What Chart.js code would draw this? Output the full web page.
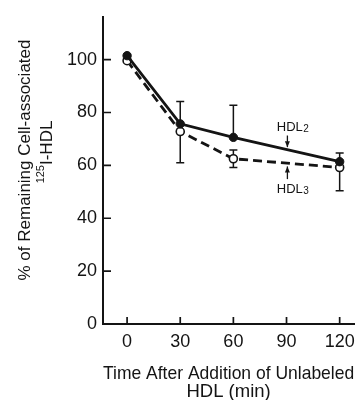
<!DOCTYPE html>
<html>
<head>
<meta charset="utf-8">
<script src="https://cdn.jsdelivr.net/npm/chart.js@4.4.1/dist/chart.umd.min.js"></script>
<style>
  html, body { margin: 0; padding: 0; background: #fff; }
</style>
</head>
<body>
<canvas id="chart" width="362" height="400"></canvas>
<script>
// data
const times = [0, 30, 60, 120];
const hdl2 = [101.5, 75.7, 70.6, 61.4];
const hdl3 = [99.6, 72.8, 62.5, 59.2];
// whisker ends (null = none drawn)
const hdl2Upper = [null, 84.2, 82.7, 64.7];
const hdl3Upper = [null, null, 65.8, null];
const hdl3Lower = [null, 61.0, 59.2, 50.4];
const xTicks = [0, 30, 60, 90, 120];
const yTicks = [0, 20, 40, 60, 80, 100];

const INK = '#141414';
const FONT = "'Liberation Sans', Arial, sans-serif";

// labels with arrows pointing at the lines (data coords)
const notes = [
  { base: 'HDL', sub: '2', x: 84.5, y: 74.3, arrowX: 90.5, from: 71.3, to: 66.9 },
  { base: 'HDL', sub: '3', x: 84.5, y: 50.9, arrowX: 90.5, from: 54.8, to: 59.6 }
];

const decorations = {
  id: 'decorations',
  beforeDatasetsDraw(chart) {
    const { ctx, scales: { x, y } } = chart;
    ctx.save();
    ctx.strokeStyle = INK;
    ctx.lineWidth = 1.5;
    const whisker = (t, a, b) => {
      const px = x.getPixelForValue(t);
      const ya = y.getPixelForValue(a), yb = y.getPixelForValue(b);
      ctx.beginPath();
      ctx.moveTo(px, ya); ctx.lineTo(px, yb);
      ctx.moveTo(px - 4, yb); ctx.lineTo(px + 4, yb);
      ctx.stroke();
    };
    times.forEach((t, i) => {
      if (hdl2Upper[i] != null) whisker(t, hdl2[i], hdl2Upper[i]);
      if (hdl3Upper[i] != null) whisker(t, hdl3[i], hdl3Upper[i]);
      if (hdl3Lower[i] != null) whisker(t, hdl3[i], hdl3Lower[i]);
    });
    ctx.restore();
  },
  afterDraw(chart) {
    const { ctx, scales: { x, y } } = chart;
    ctx.save();
    ctx.strokeStyle = INK;
    ctx.fillStyle = INK;
    ctx.lineWidth = 1.7;
    // inward tick marks
    const y0 = y.getPixelForValue(0);
    const x0 = x.left;
    ctx.beginPath();
    xTicks.forEach(t => {
      const px = x.getPixelForValue(t);
      ctx.moveTo(px, y0); ctx.lineTo(px, y0 - 7);
    });
    yTicks.forEach(v => {
      if (v === 0) return;
      const py = y.getPixelForValue(v);
      ctx.moveTo(x0, py); ctx.lineTo(x0 + 8, py);
    });
    ctx.stroke();

    // y axis title, rotated, with a real superscript
    ctx.save();
    ctx.rotate(-Math.PI / 2);
    ctx.textBaseline = 'middle';
    ctx.textAlign = 'center';
    ctx.font = '17px ' + FONT;
    ctx.fillText('% of Remaining Cell-associated', -160, 25);
    const mainW = ctx.measureText('I-HDL').width;
    ctx.font = '11px ' + FONT;
    const supW = ctx.measureText('125').width;
    const start = -152 - (mainW + supW) / 2;
    ctx.textAlign = 'left';
    ctx.fillText('125', start, 41);
    ctx.font = '17px ' + FONT;
    ctx.fillText('I-HDL', start + supW, 47);
    ctx.restore();

    // annotations
    ctx.textAlign = 'left';
    ctx.textBaseline = 'middle';
    ctx.lineWidth = 1.3;
    notes.forEach(n => {
      const tx = x.getPixelForValue(n.x), ty = y.getPixelForValue(n.y);
      ctx.font = '13px ' + FONT;
      ctx.fillText(n.base, tx, ty);
      const w = ctx.measureText(n.base).width;
      ctx.font = '10px ' + FONT;
      ctx.fillText(n.sub, tx + w + 0.5, ty + 2);
      const px = x.getPixelForValue(n.arrowX);
      const a = y.getPixelForValue(n.from), b = y.getPixelForValue(n.to);
      ctx.beginPath(); ctx.moveTo(px, a); ctx.lineTo(px, b); ctx.stroke();
      const s = b < a ? 1 : -1;
      ctx.beginPath();
      ctx.moveTo(px, b);
      ctx.lineTo(px - 2.5, b + s * 6);
      ctx.lineTo(px + 2.5, b + s * 6);
      ctx.closePath(); ctx.fill();
    });
    ctx.restore();
  }
};

new Chart(document.getElementById('chart'), {
  type: 'line',
  data: {
    datasets: [
      {
        label: 'HDL2',
        data: times.map((t, i) => ({ x: t, y: hdl2[i] })),
        borderColor: INK,
        borderWidth: 2.8,
        pointRadius: 4.2,
        pointBackgroundColor: INK,
        pointBorderColor: INK,
        pointBorderWidth: 1,
        tension: 0
      },
      {
        label: 'HDL3',
        data: times.map((t, i) => ({ x: t, y: hdl3[i] })),
        borderColor: INK,
        borderWidth: 2.8,
        borderDash: [9, 5],
        pointRadius: 4,
        pointBackgroundColor: '#fff',
        pointBorderColor: INK,
        pointBorderWidth: 1.6,
        tension: 0
      }
    ]
  },
  options: {
    responsive: false,
    animation: false,
    devicePixelRatio: 1,
    layout: { padding: { top: 8, right: 0, left: 0, bottom: 0 } },
    plugins: { legend: { display: false }, tooltip: { enabled: false } },
    scales: {
      x: {
        type: 'linear',
        min: -13.6,
        max: 128.2,
        afterBuildTicks: s => { s.ticks = xTicks.map(v => ({ value: v })); },
        afterFit: s => { s.height = 76; },
        grid: { display: true, drawOnChartArea: false, drawTicks: false },
        border: { display: true, color: INK, width: 2 },
        ticks: { color: INK, padding: 7, font: { family: FONT, size: 18 }, maxRotation: 0 },
        title: {
          display: true,
          text: ['Time After Addition of Unlabeled', 'HDL (min)'],
          color: INK,
          font: { family: FONT, size: 18.5, lineHeight: 1.0 },
          padding: { top: 0, bottom: -1.5 }
        }
      },
      y: {
        min: 0,
        max: 116.2,
        afterBuildTicks: s => { s.ticks = yTicks.map(v => ({ value: v })); },
        afterFit: s => { s.width = 103; },
        grid: { display: true, drawOnChartArea: false, drawTicks: false },
        border: { display: true, color: INK, width: 2 },
        ticks: { color: INK, padding: 6, font: { family: FONT, size: 18 } }
      }
    }
  },
  plugins: [decorations]
});
</script>
</body>
</html>
